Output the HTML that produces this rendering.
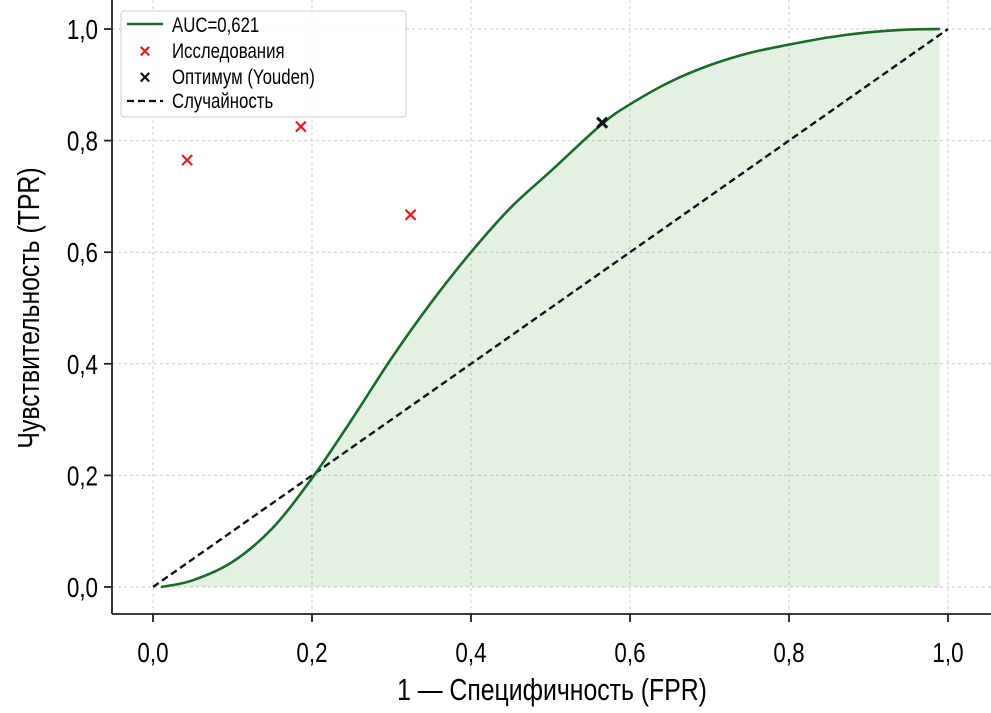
<!DOCTYPE html>
<html><head><meta charset="utf-8"><style>
body{margin:0;background:#fff;}
svg{display:block;font-family:"Liberation Sans","DejaVu Sans",sans-serif;}
</style></head><body>
<svg id="chart" width="991" height="713" viewBox="0 0 991 713">
<g id="grid"></g>
<path id="area" fill="#2e8b2e" fill-opacity="0.13" stroke="none"/>
<path id="diag" fill="none" stroke="#111" stroke-width="2.4" stroke-dasharray="7,4"/>
<path id="curve" fill="none" stroke="#1a6b2a" stroke-width="2.6"/>
<g id="marks"></g>
<line x1="112" y1="0" x2="112" y2="614" stroke="#222" stroke-width="1.8"/>
<line x1="112" y1="614" x2="991" y2="614" stroke="#222" stroke-width="1.8"/>
<g id="ticks"></g>
<text x="552" y="700" text-anchor="middle" font-size="31" transform="translate(552,0) scale(0.8,1) translate(-552,0)">1 — Специфичность (FPR)</text>
<text x="0" y="0" text-anchor="middle" font-size="31" transform="translate(39,308) rotate(-90) scale(0.8,1)">Чувствительность (TPR)</text>
<g>
<rect x="121" y="11" width="285" height="106" rx="3" fill="#fff" fill-opacity="0.85" stroke="#ccc"/>
<line x1="127" y1="24" x2="163" y2="24" stroke="#1a6b2a" stroke-width="2.4"/>
<text x="172" y="32" font-size="21" transform="translate(172,0) scale(0.8,1) translate(-172,0)">AUC=0,621</text>
<text x="145" y="58" font-size="20" fill="#e02020" text-anchor="middle" font-weight="bold">×</text>
<text x="172" y="58" font-size="21" transform="translate(172,0) scale(0.8,1) translate(-172,0)">Исследования</text>
<text x="145" y="84" font-size="20" fill="#111" text-anchor="middle" font-weight="bold">×</text>
<text x="172" y="84" font-size="21" transform="translate(172,0) scale(0.8,1) translate(-172,0)">Оптимум (Youden)</text>
<line x1="127" y1="101" x2="163" y2="101" stroke="#111" stroke-width="2.2" stroke-dasharray="7,4"/>
<text x="172" y="108" font-size="21" transform="translate(172,0) scale(0.8,1) translate(-172,0)">Случайность</text>
</g>
</svg>
<script>
const curveFpr=[0.01,0.05,0.1,0.15,0.2,0.25,0.3,0.35,0.4,0.45,0.5,0.565,0.6,0.65,0.7,0.75,0.8,0.85,0.9,0.95,0.99];
const curveTpr=[0.0,0.012,0.045,0.105,0.195,0.3,0.41,0.51,0.6,0.68,0.745,0.83,0.865,0.905,0.935,0.957,0.972,0.985,0.994,0.999,1.0];
const studyFpr=[0.043,0.186,0.324];
const studyTpr=[0.765,0.825,0.667];
const optFpr=[0.565];
const optTpr=[0.832];
const tickVals=[0,0.2,0.4,0.6,0.8,1.0];
const tickLabels=["0,0","0,2","0,4","0,6","0,8","1,0"];
const X=v=>153+v*795, Y=v=>587-v*558;
const NS="http://www.w3.org/2000/svg";
function el(t,a,p){const e=document.createElementNS(NS,t);for(const k in a)e.setAttribute(k,a[k]);document.getElementById(p).appendChild(e);return e;}
tickVals.forEach((v,i)=>{
 let g=el('line',{x1:X(v),y1:0,x2:X(v),y2:614,stroke:'#ccc','stroke-width':1,'stroke-dasharray':'3,3'},'grid');
 
 
 g=el('line',{x1:112,y1:Y(v),x2:991,y2:Y(v),stroke:'#ccc','stroke-width':1,'stroke-dasharray':'3,3'},'grid');
 
 
 let t=el('line',{x1:X(v),y1:614,x2:X(v),y2:622,stroke:'#222','stroke-width':1.8},'ticks');
 
 
 t=el('line',{x1:104,y1:Y(v),x2:112,y2:Y(v),stroke:'#222','stroke-width':1.8},'ticks');
 
 
 let l=el('text',{x:X(v),y:662,'text-anchor':'middle','font-size':28,transform:`translate(${X(v)},0) scale(0.8,1) translate(${-X(v)},0)`},'ticks');
 l.textContent=tickLabels[i];
 
 
 l=el('text',{x:98,y:Y(v)+10,'text-anchor':'end','font-size':28,transform:`translate(98,0) scale(0.8,1) translate(-98,0)`},'ticks');
 l.textContent=tickLabels[i];
 
 
});
const pts=curveFpr.map((f,i)=>[X(f),Y(curveTpr[i])]);
let d=`M${pts[0][0]},${pts[0][1]}`;
for(let i=0;i<pts.length-1;i++){const p0=pts[Math.max(0,i-1)],p1=pts[i],p2=pts[i+1],p3=pts[Math.min(pts.length-1,i+2)];
 d+=` C${p1[0]+(p2[0]-p0[0])/6},${p1[1]+(p2[1]-p0[1])/6} ${p2[0]-(p3[0]-p1[0])/6},${p2[1]-(p3[1]-p1[1])/6} ${p2[0]},${p2[1]}`;}
document.getElementById('curve').setAttribute('d',d);
document.getElementById('area').setAttribute('d',d+` L${pts[pts.length-1][0]},${Y(0)} L${pts[0][0]},${Y(0)} Z`);
document.getElementById('diag').setAttribute('d',`M${X(0)},${Y(0)} L${X(1)},${Y(1)}`);
function cross(x,y,c,w,name){const s=5;
 const p=el('path',{d:`M${x-s},${y-s}L${x+s},${y+s}M${x-s},${y+s}L${x+s},${y-s}`,stroke:c,'stroke-width':w,fill:'none'},'marks');
 
 }
studyFpr.forEach((f,i)=>cross(X(f),Y(studyTpr[i]),'#e02020',2.2,'study-marker'));
optFpr.forEach((f,i)=>cross(X(f),Y(optTpr[i]),'#111',3,'optimum-marker'));
</script>
</body></html>
